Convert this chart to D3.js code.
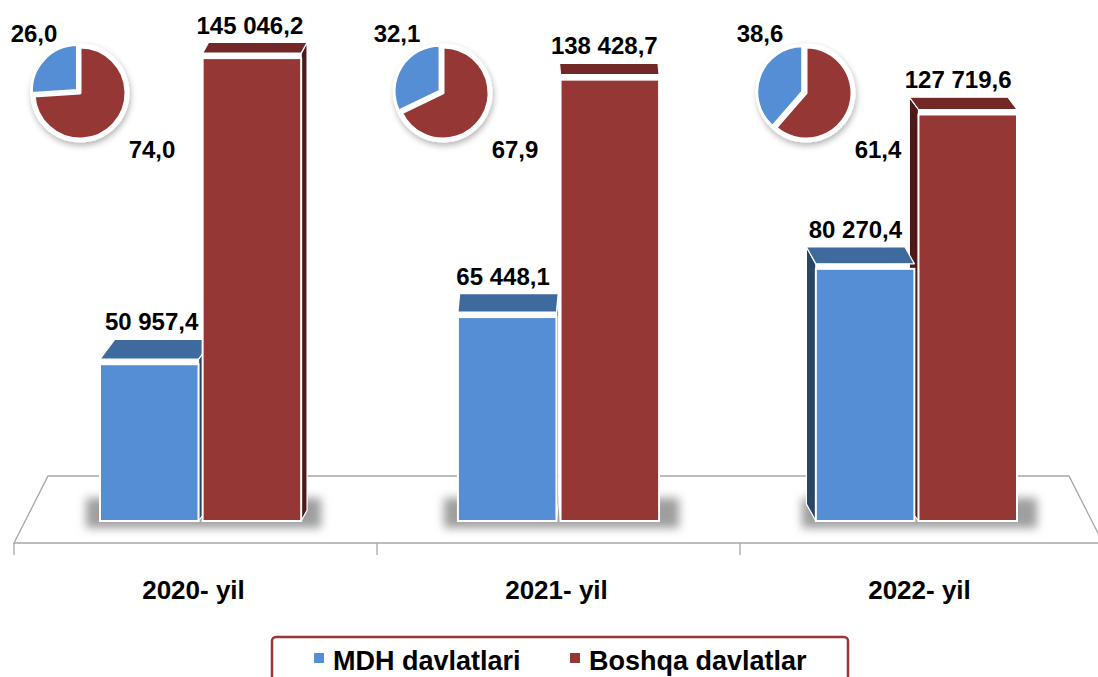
<!DOCTYPE html>
<html>
<head>
<meta charset="utf-8">
<script src="https://cdn.jsdelivr.net/npm/d3@7"></script>
<style>
  body { margin: 0; background: #fff; }
  svg { display: block; font-family: "Liberation Sans", Arial, sans-serif; font-weight: bold; }
</style>
</head>
<body>
<script>
// data
const categories = ['2020- yil', '2021- yil', '2022- yil'];
const seriesNames = ['MDH davlatlari', 'Boshqa davlatlar'];
const mdhValues = [50957.4, 65448.1, 80270.4];
const boshqaValues = [145046.2, 138428.7, 127719.6];
const mdhShare = [26.0, 32.1, 38.6];
const boshqaShare = [74.0, 67.9, 61.4];

const W = 1098, H = 677;
const front = { blue: '#558ed5', red: '#953735' };
const topC = { blue: '#3f6a9e', red: '#722827' };
const sideC = { blue: '#2a4468', red: '#4e1a19' };

const loc = d3.formatLocale({ decimal: ',', thousands: ' ', grouping: [3], currency: ['', ''] });
const fmtVal = loc.format(',.1f');
const fmtPct = loc.format('.1f');

let svg = d3.select('body').append('svg')
    .attr('width', W)
    .attr('height', H);

let defs = svg.append('defs');
defs.append('filter').attr('id', 'blur').attr('x', '-20%').attr('y', '-60%').attr('width', '140%').attr('height', '220%')
    .append('feGaussianBlur').attr('stdDeviation', 5);
defs.append('filter').attr('id', 'pieShadow').attr('x', '-30%').attr('y', '-30%').attr('width', '160%').attr('height', '160%')
    .append('feDropShadow').attr('dx', 1).attr('dy', 3).attr('stdDeviation', 3).attr('flood-color', '#000').attr('flood-opacity', 0.3);

// scales
const vx = 558.5;         // vanishing x of the perspective
const base = 521;
let x0 = d3.scaleBand().domain(categories).range([14, 1103]);
let x1 = d3.scaleBand().domain(seriesNames).range([-102, 102]).paddingInner(0.04);
let y = d3.scaleLinear().domain([0, 150000]).range([525, 37]);
const px = function (x) { return vx + (x - vx) * 0.986; };

// ============================ FLOOR ============================
svg.append('path')
    .attr('d', 'M' + [[14, 543], [48, 476], [1069, 476], [1103, 543]].join('L') + 'Z')
    .attr('fill', '#fff')
    .attr('stroke', '#a6a6a6')
    .attr('stroke-width', 1.3);

svg.selectAll('.tick')
    .data(categories).enter()
    .append('line')
        .attr('x1', function (d) { return x0(d); })
        .attr('x2', function (d) { return x0(d); })
        .attr('y1', 543)
        .attr('y2', 555)
        .attr('stroke', '#a6a6a6')
        .attr('stroke-width', 1.3);

svg.selectAll('.cat')
    .data(categories).enter()
    .append('text')
        .attr('x', function (d) { return x0(d) + x0.bandwidth() / 2 - 2; })
        .attr('y', 599)
        .attr('text-anchor', 'middle')
        .attr('font-size', 26)
        .attr('fill', '#000')
        .text(function (d) { return d; });

// ============================ BARS ============================
let bars = [];
categories.forEach(function (c, i) {
    [mdhValues[i], boshqaValues[i]].forEach(function (v, j) {
        let xs = x0(c) + x0.bandwidth() / 2 + x1(seriesNames[j]);
        let xl = px(xs), xr = px(xs + x1.bandwidth());
        let yv = y(v);
        let d = 9 + yv * 0.03;
        let cx = (xl + xr) / 2;
        let dx = d * (vx - cx) / 550;
        bars.push({ cat: c, i: i, v: v, key: j === 0 ? 'blue' : 'red', xl: xl, xr: xr, yv: yv, d: d, dx: dx, cx: cx });
    });
});

// floor shadows
categories.forEach(function (c, i) {
    let gb = bars.filter(function (b) { return b.i === i; });
    let l = d3.min(gb, function (b) { return b.xl; }), r = d3.max(gb, function (b) { return b.xr; });
    svg.append('rect')
        .attr('x', l - 14)
        .attr('y', 498)
        .attr('width', r - l + 34)
        .attr('height', 30)
        .attr('fill', '#9e9e9e')
        .attr('filter', 'url(#blur)');
});

// far bars first so the near one covers its side
bars.sort(function (a, b) { return Math.abs(b.cx - vx) - Math.abs(a.cx - vx); });

let barG = svg.append('g');
bars.forEach(function (b) {
    let g = barG.append('g');
    let ex = b.dx >= 0 ? b.xr : b.xl;
    g.append('path')
        .attr('d', 'M' + [[ex, b.yv], [ex + b.dx, b.yv - b.d], [ex + b.dx, base - b.d], [ex, base]].join('L') + 'Z')
        .attr('fill', sideC[b.key])
        .attr('stroke', '#fff')
        .attr('stroke-width', 1.2)
        .attr('stroke-linejoin', 'round');
    g.append('path')
        .attr('d', 'M' + [[b.xl, b.yv], [b.xr, b.yv], [b.xr + b.dx, b.yv - b.d], [b.xl + b.dx, b.yv - b.d]].join('L') + 'Z')
        .attr('fill', topC[b.key])
        .attr('stroke', '#fff')
        .attr('stroke-width', 1.2)
        .attr('stroke-linejoin', 'round');
    g.append('rect')
        .attr('x', b.xl)
        .attr('y', b.yv + 5)
        .attr('width', b.xr - b.xl)
        .attr('height', base - b.yv - 5)
        .attr('fill', front[b.key])
        .attr('stroke', '#fff')
        .attr('stroke-width', 2);
});

svg.selectAll('.val')
    .data(bars).enter()
    .append('text')
        .attr('x', function (b) { return b.cx + b.dx / 2 - 5; })
        .attr('y', function (b) { return b.yv - b.d - 9; })
        .attr('text-anchor', 'middle')
        .attr('font-size', 24)
        .attr('fill', '#000')
        .text(function (b) { return fmtVal(b.v); });

// ============================ PIES ============================
let pie = d3.pie().sort(null);
let arc = d3.arc().innerRadius(0).outerRadius(46);

categories.forEach(function (c, i) {
    let pcx = x0(c) + 66, pcy = 93;
    let pg = svg.append('g').attr('transform', 'translate(' + pcx + ',' + pcy + ')');
    pg.append('circle')
        .attr('r', 49.5)
        .attr('fill', '#fff')
        .attr('filter', 'url(#pieShadow)');
    let slices = pie([boshqaShare[i], mdhShare[i]]);
    pg.selectAll('path')
        .data(slices).enter()
        .append('path')
            .attr('d', arc)
            .attr('transform', function (d, k) {
                if (k === 0) return null;
                let a = (d.startAngle + d.endAngle) / 2;
                return 'translate(' + (Math.sin(a) * 3.5) + ',' + (-Math.cos(a) * 3.5) + ')';
            })
            .attr('fill', function (d, k) { return k === 0 ? front.red : front.blue; })
            .attr('stroke', '#fff')
            .attr('stroke-width', 3)
            .attr('stroke-linejoin', 'round');

    pg.append('text')
        .attr('x', -46)
        .attr('y', -51)
        .attr('text-anchor', 'middle')
        .attr('font-size', 24)
        .text(fmtPct(mdhShare[i]));
    pg.append('text')
        .attr('x', 72)
        .attr('y', 65)
        .attr('text-anchor', 'middle')
        .attr('font-size', 24)
        .text(fmtPct(boshqaShare[i]));
});

// ============================ LEGEND ============================
let legend = svg.append('g');
legend.append('rect')
    .attr('x', 272)
    .attr('y', 637)
    .attr('width', 576)
    .attr('height', 70)
    .attr('rx', 4)
    .attr('fill', '#fff')
    .attr('stroke', '#953735')
    .attr('stroke-width', 2.5);

let legendX = [314, 570];
seriesNames.forEach(function (s, j) {
    legend.append('rect')
        .attr('x', legendX[j])
        .attr('y', 653)
        .attr('width', 10)
        .attr('height', 10)
        .attr('fill', j === 0 ? front.blue : front.red);
    legend.append('text')
        .attr('x', legendX[j] + 19)
        .attr('y', 670)
        .attr('font-size', 27)
        .text(s);
});
</script>
</body>
</html>
